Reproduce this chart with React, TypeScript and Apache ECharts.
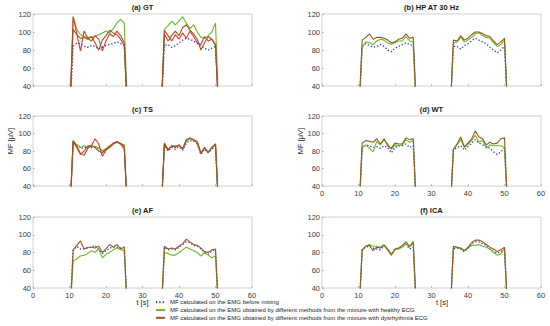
import React, { useEffect, useRef } from "react";
import * as echarts from "echarts";

// time stamps (s) of the two contraction bursts
const timeSeg1 = [11, 12, 13, 14, 15, 16, 17, 18, 19, 20, 21, 22, 23, 24, 25];
const timeSeg2 = [36, 37, 38, 39, 40, 41, 42, 43, 44, 45, 46, 47, 48, 49, 50];
// rest points (signal off -> MF = 0)
const restPoints = [
  [10, 0],
  [26, 0],
  [35, 0],
  [51, 0],
];

const xTicks = { min: 0, max: 60, interval: 10 };
const yTicks = { min: 40, max: 120, interval: 20 };

const seriesNames = [
  "MF calculated on the EMG before mixing",
  "MF calculated on the EMG obtained by different methods from the mixture with healthy ECG",
  "MF calculated on the EMG obtained by different methods from the mixture with dysrhythmia ECG",
];

const panelTitles = ["(a) GT", "(b) HP AT 30 Hz", "(c) TS", "(d) WT", "(e) AF", "(f) ICA"];

// (a) GT
const gtBefore = [84, 88, 87, 84, 83, 85, 84, 81, 83, 85, 86, 87, 89, 87, 85, 85, 86, 83, 85, 88, 91, 93, 92, 90, 87, 85, 82, 80, 82, 84];
const gtHealthy = [117, 103, 97, 95, 94, 94, 95, 97, 99, 101, 99, 104, 110, 114, 110, 103, 107, 112, 108, 112, 117, 110, 104, 108, 100, 94, 93, 96, 100, 110];
const gtDysrhythmia = [103, 97, 93, 94, 92, 95, 88, 80, 91, 96, 102, 99, 97, 92, 85, 98, 90, 96, 101, 96, 105, 108, 102, 98, 92, 80, 88, 95, 92, 85];
const gtDysrhythmiaAlt = [117, 98, 79, 101, 93, 90, 96, 92, 79, 90, 98, 95, 101, 96, 88, 102, 96, 90, 97, 92, 99, 93, 101, 95, 88, 86, 95, 90, 92, 86];

// (b) HP AT 30 Hz
const hpBefore = [84, 87, 85, 83, 84, 86, 84, 80, 78, 82, 84, 86, 88, 86, 85, 84, 84, 81, 85, 87, 90, 93, 91, 89, 87, 83, 80, 77, 80, 84];
const hpHealthy = [83, 89, 88, 86, 90, 92, 91, 88, 86, 88, 90, 90, 95, 90, 89, 88, 89, 94, 89, 91, 94, 98, 99, 96, 94, 93, 88, 84, 86, 91];
const hpDysrhythmia = [91, 94, 98, 92, 94, 94, 93, 91, 88, 89, 92, 93, 98, 93, 94, 91, 90, 96, 91, 93, 97, 100, 100, 98, 96, 95, 90, 86, 89, 93];

// (c) TS
const tsBefore = [90, 87, 84, 83, 85, 84, 85, 83, 80, 82, 85, 88, 90, 88, 86, 87, 80, 84, 82, 85, 81, 89, 92, 91, 88, 76, 82, 78, 82, 85];
const tsHealthy = [91, 87, 84, 86, 84, 86, 85, 84, 80, 83, 86, 89, 91, 88, 87, 88, 82, 85, 86, 86, 83, 91, 94, 92, 91, 78, 83, 79, 84, 87];
const tsDysrhythmia = [92, 86, 77, 75, 83, 86, 84, 80, 78, 82, 85, 89, 91, 89, 85, 88, 81, 86, 85, 87, 82, 93, 95, 93, 90, 77, 84, 78, 84, 88];
const tsDysrhythmiaAlt = [91, 84, 76, 80, 86, 86, 94, 88, 74, 81, 84, 88, 90, 88, 82, 89, 81, 86, 84, 87, 82, 93, 95, 93, 90, 77, 84, 78, 84, 88];

// (d) WT
const wtBefore = [83, 87, 86, 84, 85, 83, 86, 84, 78, 84, 86, 86, 88, 84, 86, 81, 84, 86, 81, 85, 89, 93, 89, 87, 85, 83, 79, 76, 79, 83];
const wtHealthy = [84, 87, 83, 79, 91, 87, 93, 88, 82, 87, 86, 87, 93, 90, 92, 82, 87, 93, 84, 88, 92, 98, 90, 92, 83, 87, 86, 86, 86, 84];
const wtDysrhythmia = [89, 92, 91, 90, 94, 88, 94, 86, 83, 89, 88, 88, 95, 93, 94, 82, 88, 96, 85, 89, 94, 103, 96, 94, 87, 90, 88, 89, 94, 95];

// (e) AF
const afBefore = [82, 87, 84, 84, 85, 86, 88, 83, 79, 82, 85, 86, 86, 85, 86, 86, 83, 84, 83, 86, 89, 92, 91, 88, 87, 84, 80, 78, 82, 83];
const afHealthy = [70, 73, 76, 77, 79, 82, 80, 84, 74, 78, 80, 83, 85, 83, 82, 80, 79, 77, 77, 80, 83, 86, 84, 82, 80, 76, 80, 77, 74, 76];
const afDysrhythmia = [83, 88, 93, 84, 86, 86, 85, 87, 80, 84, 89, 86, 89, 84, 86, 87, 84, 85, 84, 87, 90, 95, 92, 89, 88, 85, 81, 80, 83, 84];

// (f) ICA
const icaBefore = [83, 86, 87, 85, 84, 83, 88, 84, 78, 84, 85, 87, 89, 84, 86, 84, 85, 84, 81, 85, 90, 92, 92, 90, 88, 84, 81, 79, 81, 84];
const icaHealthy = [83, 87, 89, 87, 87, 86, 89, 84, 78, 83, 84, 86, 90, 86, 93, 86, 86, 84, 82, 85, 88, 88, 89, 87, 86, 84, 80, 77, 78, 85];
const icaDysrhythmia = [83, 87, 88, 82, 86, 85, 88, 83, 77, 84, 85, 88, 92, 87, 91, 87, 86, 85, 82, 86, 91, 94, 94, 92, 89, 86, 84, 81, 83, 86];

const panelData: { before: number[]; healthy: number[]; dys: number[]; alt?: number[] }[] = [
  { before: gtBefore, healthy: gtHealthy, dys: gtDysrhythmia, alt: gtDysrhythmiaAlt },
  { before: hpBefore, healthy: hpHealthy, dys: hpDysrhythmia },
  { before: tsBefore, healthy: tsHealthy, dys: tsDysrhythmia, alt: tsDysrhythmiaAlt },
  { before: wtBefore, healthy: wtHealthy, dys: wtDysrhythmia },
  { before: afBefore, healthy: afHealthy, dys: afDysrhythmia },
  { before: icaBefore, healthy: icaHealthy, dys: icaDysrhythmia },
];

function buildPoints(values: number[]) {
  const n = timeSeg1.length;
  return [
    restPoints[0],
    ...timeSeg1.map((t, i) => [t, values[i]]),
    restPoints[1],
    restPoints[2],
    ...timeSeg2.map((t, i) => [t, values[n + i]]),
    restPoints[3],
  ];
}

const FONT = "'Liberation Sans', Arial, Helvetica, sans-serif";
const COL_BLUE = "#2433d8";
const COL_GREEN = "#68bb22";
const COL_BROWN = "#9a5522";
const COL_RED = "#e0392a";

export default function App() {
  const ref = useRef<HTMLDivElement>(null);

  useEffect(() => {
    if (!ref.current) return;
    const chart = echarts.init(ref.current, undefined, { renderer: "svg" });

    const colLeft = [33, 322];
    const rowTop = [14, 116, 217];
    const rowHeight = [72, 70, 71];
    const gridWidth = 219;
    const showX = [false, false, false, true, true, true];

    const grids: any[] = [];
    const xAxes: any[] = [];
    const yAxes: any[] = [];
    const series: any[] = [];
    const titles: any[] = [];

    panelData.forEach((p, i) => {
      const r = Math.floor(i / 2);
      const c = i % 2;
      grids.push({
        left: colLeft[c],
        top: rowTop[r],
        width: gridWidth,
        height: rowHeight[r],
        show: true,
        borderColor: "#c4c4c4",
        borderWidth: 0.8,
        backgroundColor: "#ffffff",
      });
      xAxes.push({
        type: "value",
        gridIndex: i,
        ...xTicks,
        axisLine: { show: false },
        axisTick: { show: true, inside: true, length: 2, lineStyle: { color: "#9a9a9a", width: 0.6 } },
        splitLine: { show: false },
        axisLabel: { show: showX[i], fontSize: 7.5, color: "#3a3a3a", fontFamily: FONT, margin: 3 },
      });
      yAxes.push({
        type: "value",
        gridIndex: i,
        ...yTicks,
        axisLine: { show: false },
        axisTick: { show: true, inside: true, length: 2, lineStyle: { color: "#9a9a9a", width: 0.6 } },
        splitLine: { show: false },
        axisLabel: { fontSize: 7.5, color: "#3a3a3a", fontFamily: FONT, margin: 2 },
      });
      titles.push({
        text: panelTitles[i],
        left: colLeft[c] + gridWidth / 2,
        top: rowTop[r] - 10.5,
        textAlign: "center",
        padding: 0,
        textStyle: { fontSize: 7.5, fontWeight: "bold", color: "#1a1a1a", fontFamily: FONT },
      });
      const common = { type: "line", xAxisIndex: i, yAxisIndex: i, symbol: "none", clip: true, silent: true };
      series.push({
        ...common,
        name: seriesNames[0],
        data: buildPoints(p.before),
        lineStyle: { color: COL_BLUE, width: 1.3, type: [1.3, 2] },
        itemStyle: { color: COL_BLUE },
        z: 2,
      });
      series.push({
        ...common,
        name: seriesNames[1],
        data: buildPoints(p.healthy),
        lineStyle: { color: COL_GREEN, width: 1.1 },
        itemStyle: { color: COL_GREEN },
        z: 3,
      });
      if (p.alt) {
        series.push({
          ...common,
          name: "alt",
          data: buildPoints(p.alt),
          lineStyle: { color: COL_RED, width: 1.1 },
          itemStyle: { color: COL_RED },
          z: 4,
        });
      }
      series.push({
        ...common,
        name: seriesNames[2],
        data: buildPoints(p.dys),
        lineStyle: { color: COL_BROWN, width: 1.1 },
        itemStyle: { color: COL_BROWN },
        z: 5,
      });
    });

    const textStyle = { fontSize: 7.5, fill: "#262626", fontFamily: FONT, align: "center", verticalAlign: "middle" };

    chart.setOption({
      animation: false,
      backgroundColor: "#ffffff",
      textStyle: { fontFamily: FONT },
      title: titles,
      grid: grids,
      xAxis: xAxes,
      yAxis: yAxes,
      series,
      legend: {
        data: seriesNames,
        orient: "vertical",
        left: 155,
        top: 299,
        padding: 0,
        itemWidth: 9,
        itemHeight: 6,
        itemGap: 1.3,
        itemStyle: { opacity: 0 },
        textStyle: { fontSize: 6, color: "#222", fontFamily: FONT, lineHeight: 6.5 },
        selectedMode: false,
      },
      graphic: [
        { type: "text", x: 10, y: 141, rotation: Math.PI / 2, style: { text: "MF [μV]", ...textStyle } },
        { type: "text", x: 300, y: 141, rotation: Math.PI / 2, style: { text: "MF [μV]", ...textStyle } },
        { type: "text", x: 142.5, y: 302.5, style: { text: "t [s]", ...textStyle } },
        { type: "text", x: 442, y: 302.5, style: { text: "t [s]", ...textStyle } },
      ],
    });

    return () => chart.dispose();
  }, []);

  return (
    <div
      ref={ref}
      style={{ position: "absolute", left: 0, top: 0, width: 550, height: 326 }}
    />
  );
}
